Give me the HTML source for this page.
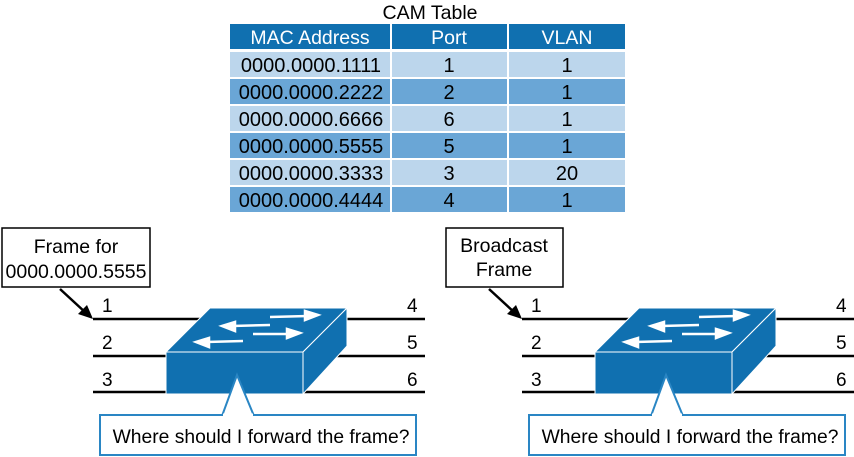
<!DOCTYPE html>
<html><head><style>
html,body{margin:0;padding:0;background:#fff;}
svg{display:block;font-family:"Liberation Sans",Arial,sans-serif;}
</style></head><body>
<svg width="854" height="457" viewBox="0 0 854 457" xmlns="http://www.w3.org/2000/svg">
<defs>
<g id="sw">
  <line x1="93" y1="319" x2="425" y2="319" stroke="#000" stroke-width="2.5"/>
  <line x1="93" y1="356" x2="425" y2="356" stroke="#000" stroke-width="2.5"/>
  <line x1="93" y1="392" x2="425" y2="392" stroke="#000" stroke-width="2.5"/>
  <polygon points="166,352 210,308 347,308 303,352" fill="#1070b0" stroke="#fff" stroke-width="1"/>
  <rect x="166" y="352" width="137" height="42" fill="#1070b0" stroke="#fff" stroke-width="1"/>
  <polygon points="303,352 347,308 347,346 303,394" fill="#1070b0" stroke="#fff" stroke-width="1"/>
  <g stroke="#fff" stroke-width="2.5" fill="#fff">
    <line x1="270" y1="317" x2="308" y2="316"/><polygon points="318,315 305,311 305,320"/>
    <line x1="232" y1="326" x2="270" y2="325"/><polygon points="222,326 235,322 235,331"/>
    <line x1="253" y1="334" x2="290" y2="334"/><polygon points="300,333 287,329 287,338"/>
    <line x1="206" y1="342" x2="243" y2="341"/><polygon points="196,342 209,338 209,347"/>
  </g>
  <g font-size="19" fill="#000">
    <text x="102" y="312">1</text><text x="102" y="349">2</text><text x="102" y="386">3</text>
    <text x="407" y="312">4</text><text x="407" y="349">5</text><text x="407" y="386">6</text>
  </g>
  <line x1="60" y1="289" x2="86" y2="313" stroke="#000" stroke-width="2.5"/>
  <polygon points="93,319 78,314 87,305" fill="#000"/>
  <polygon points="222,416 237,375 254,416" fill="#fff" stroke="#2a86c4" stroke-width="2"/>
  <rect x="100" y="415" width="316" height="40" fill="#fff" stroke="#2a86c4" stroke-width="2"/>
  <line x1="223" y1="415" x2="253" y2="415" stroke="#fff" stroke-width="3"/>
  <text x="261" y="443" font-size="19.3" text-anchor="middle">Where should I forward the frame?</text>
</g>
</defs>

<text x="430" y="19" font-size="19.5" text-anchor="middle">CAM Table</text>
<g font-size="19.5" text-anchor="middle">
  <rect x="230" y="24" width="160" height="25" fill="#1070b0"/>
  <rect x="392" y="24" width="115" height="25" fill="#1070b0"/>
  <rect x="509" y="24" width="116" height="25" fill="#1070b0"/>
  <text x="310" y="44" fill="#fff">MAC Address</text>
  <text x="449" y="44" fill="#fff">Port</text>
  <text x="567" y="44" fill="#fff">VLAN</text>
</g>
<g font-size="20" text-anchor="middle" fill="#000">
  <rect x="230" y="52" width="160" height="25" fill="#bcd6ec"/><rect x="392" y="52" width="115" height="25" fill="#bcd6ec"/><rect x="509" y="52" width="116" height="25" fill="#bcd6ec"/>
  <text x="311" y="72">0000.0000.1111</text><text x="449" y="72">1</text><text x="567" y="72">1</text>
  <rect x="230" y="79" width="160" height="25" fill="#6aa6d6"/><rect x="392" y="79" width="115" height="25" fill="#6aa6d6"/><rect x="509" y="79" width="116" height="25" fill="#6aa6d6"/>
  <text x="311" y="99">0000.0000.2222</text><text x="449" y="99">2</text><text x="567" y="99">1</text>
  <rect x="230" y="106" width="160" height="25" fill="#bcd6ec"/><rect x="392" y="106" width="115" height="25" fill="#bcd6ec"/><rect x="509" y="106" width="116" height="25" fill="#bcd6ec"/>
  <text x="311" y="126">0000.0000.6666</text><text x="449" y="126">6</text><text x="567" y="126">1</text>
  <rect x="230" y="133" width="160" height="25" fill="#6aa6d6"/><rect x="392" y="133" width="115" height="25" fill="#6aa6d6"/><rect x="509" y="133" width="116" height="25" fill="#6aa6d6"/>
  <text x="311" y="153">0000.0000.5555</text><text x="449" y="153">5</text><text x="567" y="153">1</text>
  <rect x="230" y="160" width="160" height="25" fill="#bcd6ec"/><rect x="392" y="160" width="115" height="25" fill="#bcd6ec"/><rect x="509" y="160" width="116" height="25" fill="#bcd6ec"/>
  <text x="311" y="180">0000.0000.3333</text><text x="449" y="180">3</text><text x="567" y="180">20</text>
  <rect x="230" y="187" width="160" height="25" fill="#6aa6d6"/><rect x="392" y="187" width="115" height="25" fill="#6aa6d6"/><rect x="509" y="187" width="116" height="25" fill="#6aa6d6"/>
  <text x="311" y="207">0000.0000.4444</text><text x="449" y="207">4</text><text x="567" y="207">1</text>
</g>

<use href="#sw"/>
<rect x="2" y="228" width="148" height="59" fill="#fff" stroke="#000" stroke-width="1.5"/>
<text x="76" y="253" font-size="19.5" text-anchor="middle">Frame for</text>
<text x="76" y="278" font-size="19.5" text-anchor="middle">0000.0000.5555</text>

<use href="#sw" transform="translate(429,0)"/>
<rect x="446" y="228" width="117" height="59" fill="#fff" stroke="#000" stroke-width="1.5"/>
<text x="504" y="252" font-size="19.5" text-anchor="middle">Broadcast</text>
<text x="504" y="276" font-size="19.5" text-anchor="middle">Frame</text>
</svg>
</body></html>
